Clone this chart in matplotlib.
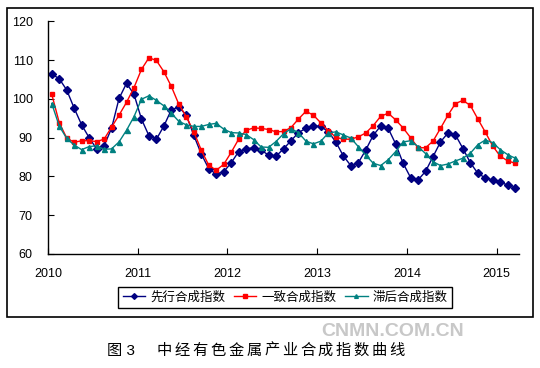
import matplotlib
matplotlib.use("Agg")
import matplotlib.pyplot as plt
from matplotlib.patches import Rectangle

plt.rcParams['font.family'] = ['Liberation Sans', 'Noto Sans CJK SC', 'DejaVu Sans']

# monthly index values, Jan 2010 .. Mar 2015
years = ["2010", "2011", "2012", "2013", "2014", "2015"]

leading = [106.4, 105.2, 102.3, 97.6, 93.3, 90.0, 87.1, 87.9, 92.4, 100.1, 104.0, 101.2,
           94.8, 90.5, 89.6, 93.0, 97.2, 97.9, 95.8, 90.6, 85.8, 82.0, 80.6, 81.2,
           83.5, 86.4, 87.1, 87.4, 86.8, 85.5, 85.2, 87.1, 89.2, 91.3, 92.4, 93.0,
           92.9, 91.5, 88.9, 85.3, 82.8, 83.5, 86.8, 90.6, 93.0, 92.4, 88.4, 83.4,
           79.7, 79.1, 81.3, 85.1, 88.9, 91.2, 90.7, 87.2, 83.5, 80.8, 79.6, 79.1,
           78.6, 77.7, 77.0]

coincident = [101.2, 93.9, 89.9, 88.8, 89.2, 89.2, 89.0, 89.6, 92.7, 95.8, 99.1, 102.9,
              107.6, 110.6, 109.9, 107.0, 103.2, 98.6, 95.4, 91.5, 86.8, 82.9, 81.6, 83.1,
              86.2, 89.6, 91.9, 92.5, 92.4, 92.1, 91.5, 91.6, 92.6, 94.8, 96.8, 95.8,
              93.8, 91.8, 90.1, 89.6, 89.6, 90.2, 91.2, 93.1, 95.5, 96.3, 94.6, 92.5,
              90.0, 87.4, 87.4, 89.1, 92.4, 95.8, 98.8, 99.6, 98.3, 94.8, 91.4, 87.8,
              85.2, 84.0, 83.4]

lagging = [98.8, 93.0, 89.8, 88.1, 86.9, 87.7, 87.9, 87.0, 87.1, 88.9, 91.9, 95.4,
           99.9, 100.8, 99.6, 98.2, 96.3, 94.2, 93.3, 92.9, 92.9, 93.4, 93.7, 92.2,
           91.3, 91.2, 90.8, 89.5, 87.6, 87.5, 89.0, 91.0, 92.3, 91.3, 89.1, 88.4,
           89.1, 91.2, 91.5, 90.7, 89.9, 87.7, 85.5, 83.4, 82.8, 84.3, 86.4, 88.9,
           89.2, 87.7, 85.9, 83.8, 82.8, 83.2, 84.0, 84.7, 86.0, 88.2, 89.4, 88.7,
           86.9, 85.6, 84.7]

labels = ["先行合成指数", "一致合成指数", "滞后合成指数"]

fig = plt.figure(figsize=(5.4, 3.68), dpi=100)
ax = fig.add_axes([0.0889, 0.3098, 0.8722, 0.6323])

x = list(range(len(leading)))
ax.plot(x, leading, color="#000080", lw=1, marker="D", ms=3.9, label=labels[0])
ax.plot(x, coincident, color="#FF0000", lw=1, marker="s", ms=2.9, label=labels[1])
ax.plot(x, lagging, color="#008080", lw=1, marker="^", ms=3.6, label=labels[2])

ax.set_xlim(-0.5, len(leading) - 0.5)
ax.set_ylim(60, 120)
ax.set_yticks(range(60, 121, 10))
ax.set_xticks([-0.5 + 12 * k for k in range(len(years))])
ax.set_xticklabels(years)

for s in ["top", "right"]:
    ax.spines[s].set_visible(False)
for s in ["left", "bottom"]:
    ax.spines[s].set_linewidth(1)
ax.tick_params(axis="y", direction="in", length=4, labelsize=9, pad=11)
ax.tick_params(axis="x", direction="in", length=4, labelsize=9, pad=10)

leg = fig.legend(loc="center", bbox_to_anchor=(0.528, 0.1916), ncol=3, fontsize=9,
                 frameon=True, fancybox=False, framealpha=1, edgecolor="black",
                 handlelength=1.8, handletextpad=0.4, columnspacing=0.7,
                 borderpad=0.35, markerscale=0.75)
leg.get_frame().set_linewidth(1)

# outer chart border
fig.patches.append(Rectangle((7 / 540, 1 - 317 / 368), 526 / 540, 309 / 368,
                             fill=False, edgecolor="black", lw=1.2,
                             transform=fig.transFigure))

# watermark
fig.text(393 / 540, 1 - 332 / 368, "CNMN.COM.CN", ha="center", va="center",
         fontsize=14, fontweight="bold", color="#c8c8c8")

# caption
fig.text(107 / 540, 1 - 351 / 368, "图 3", ha="left", va="center", fontsize=11)
caption = "中经有色金属产业合成指数曲线"
for k, ch in enumerate(caption):
    fig.text((156.7 + 17.9 * k) / 540, 1 - 351 / 368, ch, ha="left", va="center",
             fontsize=11)

fig.savefig("out.png", dpi=100)
